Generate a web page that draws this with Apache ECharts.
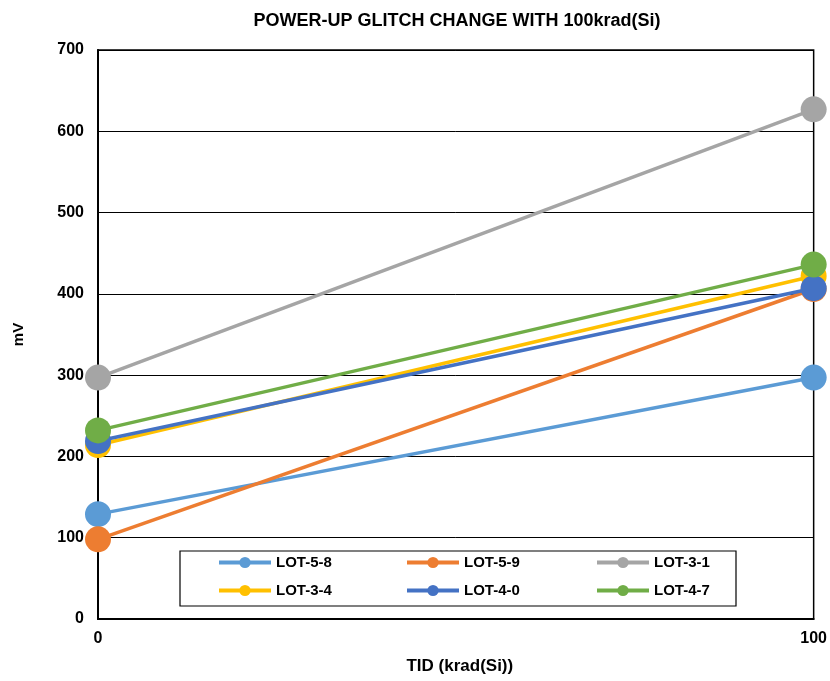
<!DOCTYPE html>
<html><head><meta charset="utf-8">
<script src="https://cdn.jsdelivr.net/npm/echarts@6/dist/echarts.min.js"></script>
<style>html,body{margin:0;padding:0;background:#fff}#c{width:830px;height:681px}</style>
</head><body><div id="c"></div>
<script>
const xValues = [0, 100];
const seriesNames = ['LOT-5-8', 'LOT-5-9', 'LOT-3-1', 'LOT-3-4', 'LOT-4-0', 'LOT-4-7'];
const lot58 = [129, 297];
const lot59 = [98, 406];
const lot31 = [297, 627];
const lot34 = [214, 422];
const lot40 = [219, 407];
const lot47 = [232, 436];
const colors = ['#5B9BD5', '#ED7D31', '#A5A5A5', '#FFC000', '#4472C4', '#70AD47'];
const allValues = [lot58, lot59, lot31, lot34, lot40, lot47];

const font = 'Liberation Sans, Arial, sans-serif';
const chart = echarts.init(document.getElementById('c'));

const series = seriesNames.map((n, i) => ({
  name: n, type: 'line',
  data: xValues.map((x, j) => [x, allValues[i][j]]),
  symbol: 'circle', symbolSize: 26,
  lineStyle: { color: colors[i], width: 3.5 },
  itemStyle: { color: colors[i] },
  z: 2 + i, animation: false
}));

const legPos = [[217, 555], [405, 555], [595, 555], [217, 583], [405, 583], [595, 583]];
const legends = seriesNames.map((n, i) => ({
  data: [n], left: legPos[i][0], top: legPos[i][1],
  itemWidth: 52, itemHeight: 14, itemGap: 0, z: 20,
  lineStyle: { width: 4 },
  textStyle: { fontFamily: font, fontWeight: 'bold', fontSize: 15, color: '#000' },
  padding: 0, selectedMode: false
}));

chart.setOption({
  animation: false,
  color: colors,
  title: { text: 'POWER-UP GLITCH CHANGE WITH 100krad(Si)', left: 452, textAlign: 'center', top: 7,
    textStyle: { fontFamily: font, fontWeight: 'bold', fontSize: 18, color: '#000' } },
  legend: legends,
  graphic: [{ type: 'rect', shape: { x: 180, y: 551, width: 556, height: 55 },
    style: { fill: '#fff', stroke: '#000', lineWidth: 1.2 }, z: 10 }],
  grid: { left: 98, right: 12, top: 50, bottom: 62, show: true, borderColor: '#000', borderWidth: 1.5 },
  xAxis: { type: 'value', min: 0, max: 100, interval: 100,
    name: 'TID (krad(Si))', nameLocation: 'middle', nameGap: 39,
    nameTextStyle: { fontFamily: font, fontWeight: 'bold', fontSize: 17, color: '#000', padding: [0, 0, 0, 8] },
    axisLine: { lineStyle: { color: '#000', width: 2 } }, axisTick: { show: false },
    splitLine: { show: false },
    axisLabel: { fontFamily: font, fontWeight: 'bold', fontSize: 16, color: '#000', margin: 12 } },
  yAxis: { type: 'value', min: 0, max: 700, interval: 100,
    name: 'mV', nameLocation: 'middle', nameGap: 72,
    nameTextStyle: { fontFamily: font, fontWeight: 'bold', fontSize: 15, color: '#000' },
    axisLine: { show: true, lineStyle: { color: '#000', width: 2 } }, axisTick: { show: false },
    splitLine: { lineStyle: { color: '#000', width: 1 } },
    axisLabel: { fontFamily: font, fontWeight: 'bold', fontSize: 16, color: '#000', margin: 14 } },
  series: series
});
</script></body></html>
